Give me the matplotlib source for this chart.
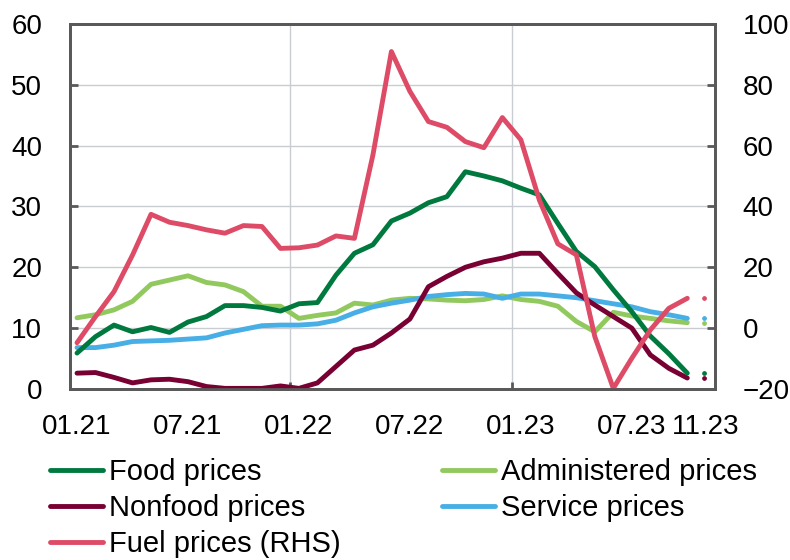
import matplotlib
matplotlib.use("Agg")
import matplotlib.pyplot as plt
import numpy as np

#====================
# Data (y/y change, %)
#====================
months = ["01.21", "02.21", "03.21", "04.21", "05.21", "06.21", "07.21", "08.21", "09.21",
          "10.21", "11.21", "12.21", "01.22", "02.22", "03.22", "04.22", "05.22", "06.22",
          "07.22", "08.22", "09.22", "10.22", "11.22", "12.22", "01.23", "02.23", "03.23",
          "04.23", "05.23", "06.23", "07.23", "08.23", "09.23", "10.23"]
tick_months = ["01.21", "07.21", "01.22", "07.22", "01.23", "07.23", "11.23"]

food = [5.9, 8.6, 10.5, 9.4, 10.1, 9.3, 11.0, 11.9, 13.7, 13.7, 13.4, 12.8, 14.0, 14.2,
        18.7, 22.3, 23.7, 27.6, 28.9, 30.6, 31.6, 35.7, 35.0, 34.2, 33.0, 31.9, 27.2,
        22.6, 20.1, 16.3, 12.7, 8.7, 5.8, 2.6]
administered = [11.7, 12.2, 13.0, 14.4, 17.2, 17.9, 18.6, 17.5, 17.1, 16.0, 13.6, 13.6,
                11.6, 12.1, 12.5, 14.1, 13.8, 14.6, 14.9, 14.8, 14.6, 14.5, 14.7, 15.3,
                14.7, 14.4, 13.6, 11.1, 9.4, 12.6, 12.0, 11.6, 11.2, 10.9]
nonfood = [2.6, 2.7, 1.9, 1.0, 1.5, 1.6, 1.2, 0.4, 0.1, 0.1, 0.1, 0.5, 0.1, 1.0, 3.7,
           6.4, 7.2, 9.2, 11.5, 16.8, 18.5, 20.0, 20.9, 21.5, 22.3, 22.3, 19.0, 15.8,
           13.8, 11.9, 10.0, 5.6, 3.4, 1.8]
service = [6.8, 6.8, 7.2, 7.8, 7.9, 8.0, 8.2, 8.4, 9.2, 9.8, 10.4, 10.5, 10.5, 10.7,
           11.3, 12.5, 13.5, 14.1, 14.6, 15.2, 15.5, 15.7, 15.6, 14.9, 15.6, 15.6, 15.3,
           15.0, 14.5, 14.0, 13.5, 12.7, 12.2, 11.6]
fuel = [-4.8, 3.8, 12.0, 24.0, 37.4, 34.8, 33.7, 32.3, 31.2, 33.7, 33.4, 26.2, 26.4,
        27.3, 30.3, 29.5, 56.9, 90.9, 77.8, 67.9, 66.0, 61.3, 59.3, 69.2, 61.9, 42.1,
        27.7, 24.1, -2.8, -19.8, -9.9, -0.6, 6.5, 9.8]

c_food = "#00793F"
c_admin = "#92C95E"
c_nonfood = "#780032"
c_service = "#48AEE6"
c_fuel = "#DD4B66"

plt.rcParams['font.family'] = ['Liberation Sans', 'DejaVu Sans']
plt.rcParams['font.size'] = 20

x = np.arange(len(months))
last = x[-1]
lw = 3.5
# one dot after the last point, like the reference
dot_style = (16.5, (0.003, 20))

fig = plt.figure(figsize=(7.9, 5.6), dpi=100)
ax = fig.add_axes([0.0886, 0.3054, 0.8165, 0.652])
ax2 = ax.twinx()

series = [
    (administered, c_admin, "Administered prices", 2),
    (service, c_service, "Service prices", 3),
    (nonfood, c_nonfood, "Nonfood prices", 4),
    (food, c_food, "Food prices", 5),
]
handles = {}
for vals, col, lab, z in series:
    h, = ax.plot(x, vals, color=col, lw=lw, label=lab, zorder=z,
                 solid_joinstyle='round', solid_capstyle='round')
    ax.plot([last, last + 1], [vals[-1], vals[-1]], color=col, lw=lw,
            linestyle=dot_style, dash_capstyle='round', zorder=z)
    handles[lab] = h

h, = ax2.plot(x, fuel, color=c_fuel, lw=lw, label="Fuel prices (RHS)",
              solid_joinstyle='round', solid_capstyle='round')
ax2.plot([last, last + 1], [fuel[-1], fuel[-1]], color=c_fuel, lw=lw,
         linestyle=dot_style, dash_capstyle='round')
handles["Fuel prices (RHS)"] = h

# axes ranges
ax.set_xlim(-0.38, 34.5)
ax.set_ylim(0, 60)
ax2.set_ylim(-20, 100)
ax.set_yticks(np.arange(0, 61, 10))
ax2.set_yticks(np.arange(-20, 101, 20))

# year gridlines between Dec and Jan, labels on months
ax.set_xticks([11.5, 23.5])
ax.set_xticklabels([])
ax.set_xticks([months.index(m) if m in months else len(months) for m in tick_months], minor=True)
ax.set_xticklabels(tick_months, minor=True)
ax.tick_params(axis='x', which='major', direction='in', length=5, width=2, color='#595959')
ax.tick_params(axis='x', which='minor', length=0, pad=18)
ax.tick_params(axis='y', direction='in', length=6, width=2, color='#595959', pad=20)
ax2.tick_params(axis='y', direction='in', length=6, width=2, color='#595959', pad=20)

ax.grid(True, which='major', color='#C9CDD1', lw=1)
ax.set_axisbelow(True)
for a in (ax, ax2):
    for s in a.spines.values():
        s.set_color('#595959')
        s.set_linewidth(2)

order = ["Food prices", "Nonfood prices", "Fuel prices (RHS)",
         "Administered prices", "Service prices"]
fig.legend([handles[k] for k in order], order, ncol=2, loc='upper left',
           bbox_to_anchor=(0.049, 0.203), frameon=False, handlelength=1.8,
           handletextpad=0.2, columnspacing=3.5, labelspacing=0.28,
           borderaxespad=0, fontsize=21)

fig.savefig("out.png", dpi=100)
